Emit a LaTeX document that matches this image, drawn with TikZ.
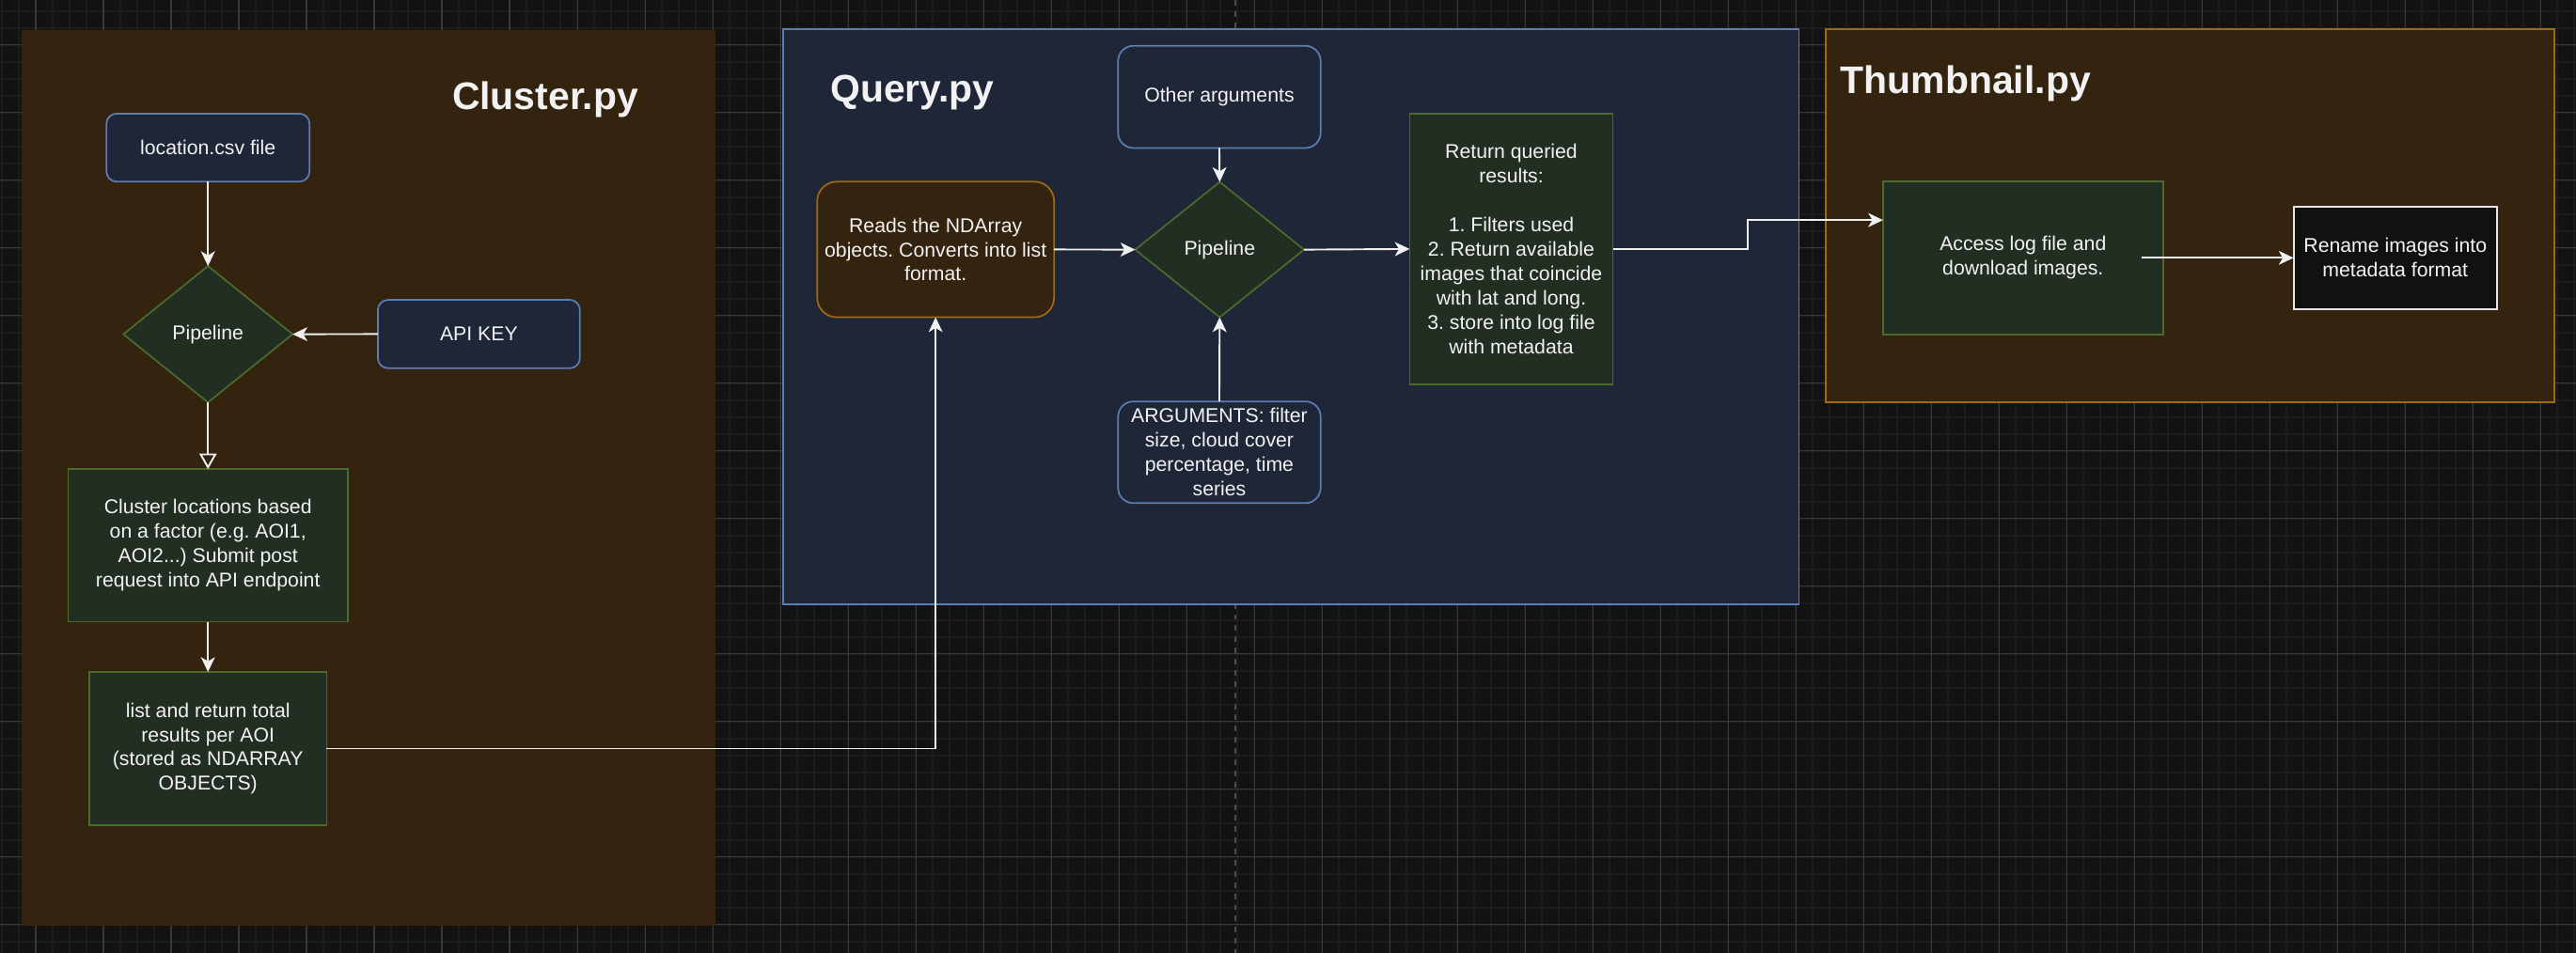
\documentclass[tikz,border=0pt]{standalone}
\usepackage{fontspec}
\setmainfont{Liberation Sans}
\usetikzlibrary{shapes.geometric,arrows.meta}
\frenchspacing
\definecolor{bgc}{HTML}{121212}
\definecolor{gminor}{HTML}{1C1C1C}
\definecolor{gmajor}{HTML}{383838}
\definecolor{pagec}{HTML}{4C4C4C}
\definecolor{brownfill}{HTML}{33230F}
\definecolor{navyfill}{HTML}{1E2638}
\definecolor{blueline}{HTML}{5C7DB3}
\definecolor{greenfill}{HTML}{232E22}
\definecolor{greenline}{HTML}{4A6B2B}
\definecolor{orangeline}{HTML}{A06A10}
\definecolor{txtc}{HTML}{F2F2F2}
\definecolor{linec}{HTML}{F0F0F0}
\definecolor{blackfill}{HTML}{111111}
\definecolor{whiteline}{HTML}{E6E6E6}
\begin{document}
\begin{tikzpicture}[x=1bp,y=-1bp,
  every node/.style={inner sep=0pt, outer sep=0pt, text=txtc, font=\fontsize{12.2}{14.9}\selectfont, align=center},
  gridminor/.style={draw=gminor, line width=1.1bp},
  gridmajor/.style={draw=gmajor, line width=0.6bp},
  pagebreak/.style={draw=pagec, line width=1.1bp, dash pattern=on 3.4bp off 3.4bp},
  frameC/.style={rectangle, fill=brownfill, draw=none},
  frameQ/.style={rectangle, fill=navyfill, draw=blueline, line width=1bp},
  frameT/.style={rectangle, fill=brownfill, draw=orangeline, line width=1bp},
  titletext/.style={font=\fontsize{23.5}{28}\selectfont\bfseries, anchor=base west},
  bluebox/.style={rectangle, fill=navyfill, draw=blueline, line width=1bp},
  greenbox/.style={rectangle, fill=greenfill, draw=greenline, line width=1bp},
  brownbox/.style={rectangle, fill=brownfill, draw=orangeline, line width=1bp, rounded corners=12bp},
  blackbox/.style={rectangle, fill=blackfill, draw=whiteline, line width=1.2bp},
  decision/.style={diamond, fill=greenfill, draw=greenline, line width=1bp},
  arr/.style={draw=linec, line width=1.1bp, -{Stealth[length=9bp,width=8.5bp,inset=2.5bp]}},
  openarr/.style={draw=linec, line width=1.1bp, -{Triangle[open,length=9.5bp,width=10.5bp]}}
]
\useasboundingbox (0,0) rectangle (1568,580);
\fill[bgc] (0,0) rectangle (1568,580);
% grid
\foreach \i in {-3,...,152} \draw[gridminor] ({21.747+10.301*\i},0) -- ({21.747+10.301*\i},580);
\foreach \j in {-3,...,55} \draw[gridminor] (0,{27.3+10.301*\j}) -- (1568,{27.3+10.301*\j});
\foreach \i in {-1,...,38} \draw[gridmajor] ({21.747+41.204*\i},0) -- ({21.747+41.204*\i},580);
\foreach \j in {-1,...,14} \draw[gridmajor] (0,{27.3+41.204*\j}) -- (1568,{27.3+41.204*\j});
\draw[pagebreak] (752,0) -- (752,580);

% frames
\node[frameC, minimum width=422.5bp, minimum height=545.6bp] (fc) at (224.35,290.9) {};
\node[frameQ, minimum width=618.5bp, minimum height=350.4bp] (fq) at (785.75,192.8) {};
\node[frameT, minimum width=443.4bp, minimum height=227.1bp] (ft) at (1333.1,131.25) {};

% titles
\node[titletext] (tc) at (275.3,66.8) {Cluster.py};
\node[titletext] (tq) at (505.5,62.2) {Query.py};
\node[titletext] (tt) at (1120.4,56.8) {Thumbnail.py};

% Cluster.py
\node[bluebox, rounded corners=6.2bp, minimum width=123.6bp, minimum height=41.4bp] (loc) at (126.6,89.9) {location.csv file};
\node[decision, minimum width=103bp, minimum height=83bp] (pipe1) at (126.6,203.5) {Pipeline};
\node[bluebox, rounded corners=6.2bp, minimum width=123bp, minimum height=41.6bp] (api) at (291.5,203.4) {API KEY};
\node[greenbox, minimum width=170.2bp, minimum height=92.9bp] (clu) at (126.6,332.1) {Cluster locations based\\on a factor (e.g. AOI1,\\AOI2...) Submit post\\request into API endpoint};
\node[greenbox, minimum width=144.5bp, minimum height=93.3bp] (lst) at (126.6,455.8) {list and return total\\results per AOI\\(stored as NDARRAY\\OBJECTS)};

% Query.py
\node[brownbox, minimum width=144.2bp, minimum height=82.6bp] (rds) at (569.5,151.9) {Reads the NDArray\\objects. Converts into list\\format.};
\node[bluebox, rounded corners=9.3bp, minimum width=123.3bp, minimum height=62.2bp] (oth) at (742.2,59) {Other arguments};
\node[decision, minimum width=102.8bp, minimum height=82.4bp] (pipe2) at (742.4,152) {Pipeline};
\node[bluebox, rounded corners=9.3bp, minimum width=123.3bp, minimum height=61.9bp] (arg) at (742.2,275.4) {ARGUMENTS: filter\\size, cloud cover\\percentage, time\\series};
\node[greenbox, minimum width=123.7bp, minimum height=165bp] (ret) at (919.9,151.6) {Return queried\\results:\\[14.9bp]1. Filters used\\2. Return available\\images that coincide\\with lat and long.\\3. store into log file\\with metadata};

% Thumbnail.py
\node[greenbox, minimum width=170.4bp, minimum height=93.3bp] (acc) at (1231.4,157) {Access log file and\\download images.};
\node[blackbox, minimum width=123.9bp, minimum height=62.2bp] (ren) at (1458,157) {Rename images into\\metadata format};

% connectors
\draw[arr] (loc.south) -- (pipe1.north);
\draw[arr] (api.west) -- (pipe1.east);
\draw[openarr] (pipe1.south) -- (clu.north);
\draw[arr] (clu.south) -- (lst.north);
\draw[arr] (lst.east) -| (rds.south);
\draw[arr] (rds.east) -- (pipe2.west);
\draw[arr] (oth.south) -- (pipe2.north);
\draw[arr] (arg.north) -- (pipe2.south);
\draw[arr] (pipe2.east) -- (ret.west);
\draw[arr] (ret.east) -- ++(82,0) |- ([yshift=23bp]acc.west);
\draw[arr] ([xshift=-13bp]acc.east) -- (ren.west);
\end{tikzpicture}
\end{document}
